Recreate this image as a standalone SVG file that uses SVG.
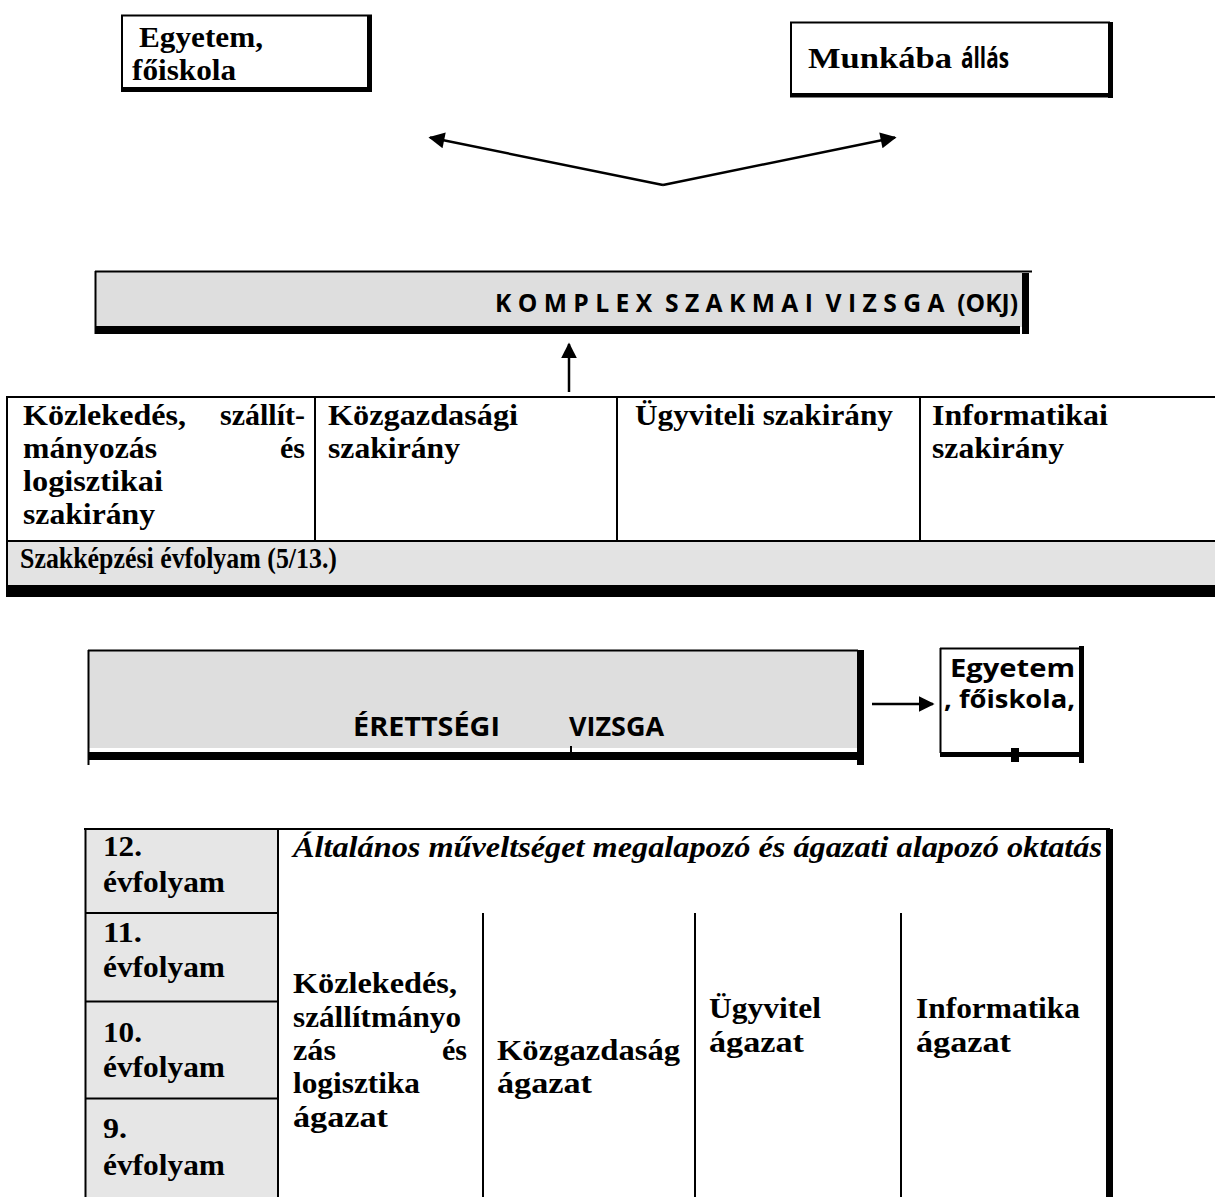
<svg xmlns="http://www.w3.org/2000/svg" width="1215" height="1197" viewBox="0 0 1215 1197">
<style>
.sb{font-family:"Liberation Serif","Times New Roman",serif;font-weight:bold;font-size:30px;fill:#000}
.si{font-family:"Liberation Serif","Times New Roman",serif;font-weight:bold;font-style:italic;font-size:30px;fill:#000}
.ss{font-family:"Open Sans",Lato,"Liberation Sans",sans-serif;font-weight:bold;fill:#000}
.thin{stroke:#000;stroke-width:2;fill:none}
.bar{fill:#000}
.conn{stroke:#000;stroke-width:2.5;fill:none}
</style>
<defs>
<marker id="ah" viewBox="0 0 10 10" refX="9" refY="5" markerUnits="userSpaceOnUse" markerWidth="24" markerHeight="16" orient="auto">
<path d="M0,0 L10,5 L0,10 z" fill="#000"/>
</marker>
<marker id="ah2" viewBox="0 0 10 10" refX="9" refY="5" markerUnits="userSpaceOnUse" markerWidth="16" markerHeight="20" orient="auto">
<path d="M0,0 L10,5 L0,10 z" fill="#000"/>
</marker>
</defs>
<rect width="1215" height="1197" fill="#fff"/>

<g id="egyetem-top">
<line class="thin" x1="121" y1="15.5" x2="372" y2="15.5" stroke-width="1.5"/>
<line class="thin" x1="122" y1="15" x2="122" y2="92"/>
<rect class="bar" x="367" y="15" width="5" height="77"/>
<rect class="bar" x="122" y="87" width="250" height="5"/>
<text class="sb" x="139" y="47" textLength="124" lengthAdjust="spacingAndGlyphs">Egyetem,</text>
<text class="sb" x="132" y="80" textLength="104" lengthAdjust="spacingAndGlyphs">főiskola</text>
</g>

<g id="munka">
<line class="thin" x1="790" y1="22.5" x2="1110" y2="22.5" stroke-width="1.5"/>
<line class="thin" x1="791" y1="22" x2="791" y2="97"/>
<rect class="bar" x="1108" y="22" width="5" height="76"/>
<rect class="bar" x="790" y="93" width="320" height="4.5"/>
<text class="sb" x="808" y="68" textLength="144" lengthAdjust="spacingAndGlyphs">Munkába</text>
<text class="ss" font-size="28" x="961" y="68" textLength="48" lengthAdjust="spacingAndGlyphs">állás</text>
</g>

<g id="komplex">
<rect x="96" y="272" width="926" height="55" fill="#dedede"/>
<line class="thin" x1="95" y1="271.5" x2="1032" y2="271.5" stroke-width="1.5"/>
<line class="thin" x1="95.5" y1="271" x2="95.5" y2="334" stroke-width="2"/>
<rect class="bar" x="95" y="326" width="925" height="8"/>
<rect class="bar" x="1022" y="273" width="7" height="61"/>
<text class="ss" font-size="25" x="495" y="312" xml:space="preserve" style="white-space:pre" textLength="523" lengthAdjust="spacingAndGlyphs">K O M P L E X  S Z A K M A I  V I Z S G A  (OKJ)</text>
</g>

<g id="szakkepzes-table">
<line class="thin" x1="6" y1="397" x2="1215" y2="397" stroke-width="2.5"/>
<line class="thin" x1="7" y1="396" x2="7" y2="597"/>
<line class="thin" x1="315" y1="397" x2="315" y2="541"/>
<line class="thin" x1="617" y1="397" x2="617" y2="541"/>
<line class="thin" x1="920" y1="397" x2="920" y2="541"/>
<rect x="8" y="542" width="1207" height="43" fill="#e3e3e3"/>
<line class="thin" x1="6" y1="541" x2="1215" y2="541" stroke-width="2.5"/>
<rect class="bar" x="6" y="585" width="1209" height="12"/>
<text class="sb" x="23" y="425" textLength="163" lengthAdjust="spacingAndGlyphs">Közlekedés,</text>
<text class="sb" x="305" y="425" text-anchor="end">szállít-</text>
<text class="sb" x="23" y="458" textLength="134" lengthAdjust="spacingAndGlyphs">mányozás</text>
<text class="sb" x="305" y="458" text-anchor="end">és</text>
<text class="sb" x="23" y="491" textLength="140" lengthAdjust="spacingAndGlyphs">logisztikai</text>
<text class="sb" x="23" y="524" textLength="132" lengthAdjust="spacingAndGlyphs">szakirány</text>
<text class="sb" x="328" y="425" textLength="190" lengthAdjust="spacingAndGlyphs">Közgazdasági</text>
<text class="sb" x="328" y="458" textLength="132" lengthAdjust="spacingAndGlyphs">szakirány</text>
<text class="sb" x="635" y="425" textLength="258" lengthAdjust="spacingAndGlyphs">Ügyviteli szakirány</text>
<text class="sb" x="932" y="425" textLength="176" lengthAdjust="spacingAndGlyphs">Informatikai</text>
<text class="sb" x="932" y="458" textLength="132" lengthAdjust="spacingAndGlyphs">szakirány</text>
<text class="sb" x="20" y="568" textLength="317" lengthAdjust="spacingAndGlyphs">Szakképzési évfolyam (5/13.)</text>
</g>

<g id="erettsegi">
<rect x="89" y="651" width="769" height="97" fill="#dedede"/>
<line class="thin" x1="88" y1="650.5" x2="858" y2="650.5" stroke-width="1.5"/>
<line class="thin" x1="88.5" y1="650" x2="88.5" y2="765" stroke-width="2"/>
<rect class="bar" x="89" y="752" width="769" height="8"/>
<line class="thin" x1="571" y1="746" x2="571" y2="752" stroke-width="1.5"/>
<rect class="bar" x="857" y="650" width="7" height="115"/>
<text class="ss" font-size="27" x="353" y="736" textLength="147" lengthAdjust="spacingAndGlyphs">ÉRETTSÉGI</text>
<text class="ss" font-size="27" x="569" y="736" textLength="95" lengthAdjust="spacingAndGlyphs">VIZSGA</text>
</g>

<g id="egyetem-right">
<line class="thin" x1="940" y1="648.5" x2="1081" y2="648.5" stroke-width="1.5"/>
<line class="thin" x1="940.5" y1="648" x2="940.5" y2="753" stroke-width="1.5"/>
<rect class="bar" x="1079" y="646" width="5" height="117"/>
<rect class="bar" x="940" y="752" width="140" height="5"/>
<rect class="bar" x="1011" y="748" width="8" height="14"/>
<text class="ss" font-size="25" x="950" y="677" textLength="125" lengthAdjust="spacingAndGlyphs">Egyetem</text>
<text class="ss" font-size="25" x="944" y="708" textLength="131" lengthAdjust="spacingAndGlyphs">, főiskola,</text>
</g>

<g id="alap-table">
<rect x="86" y="830" width="192" height="367" fill="#e6e6e6"/>
<line class="thin" x1="84" y1="829" x2="1110" y2="829" stroke-width="2.5"/>
<line class="thin" x1="85.5" y1="828" x2="85.5" y2="1197" stroke-width="2"/>
<line class="thin" x1="278" y1="829" x2="278" y2="1197" stroke-width="2"/>
<line class="thin" x1="85" y1="913" x2="278" y2="913" stroke-width="1.5"/>
<line class="thin" x1="85" y1="1001.5" x2="278" y2="1001.5" stroke-width="1.5"/>
<line class="thin" x1="85" y1="1098.5" x2="278" y2="1098.5" stroke-width="1.5"/>
<line class="thin" x1="483" y1="913" x2="483" y2="1197" stroke-width="2"/>
<line class="thin" x1="695" y1="913" x2="695" y2="1197" stroke-width="2"/>
<line class="thin" x1="901" y1="913" x2="901" y2="1197" stroke-width="2"/>
<rect class="bar" x="1106" y="829" width="7" height="368"/>
<text class="sb" x="103" y="856" textLength="39" lengthAdjust="spacingAndGlyphs">12.</text>
<text class="sb" x="103" y="892" textLength="122" lengthAdjust="spacingAndGlyphs">évfolyam</text>
<text class="sb" x="103" y="942" textLength="39" lengthAdjust="spacingAndGlyphs">11.</text>
<text class="sb" x="103" y="977" textLength="122" lengthAdjust="spacingAndGlyphs">évfolyam</text>
<text class="sb" x="103" y="1042" textLength="39" lengthAdjust="spacingAndGlyphs">10.</text>
<text class="sb" x="103" y="1077" textLength="122" lengthAdjust="spacingAndGlyphs">évfolyam</text>
<text class="sb" x="103" y="1138" textLength="24" lengthAdjust="spacingAndGlyphs">9.</text>
<text class="sb" x="103" y="1175" textLength="122" lengthAdjust="spacingAndGlyphs">évfolyam</text>
<text class="si" x="293" y="857" textLength="809" lengthAdjust="spacingAndGlyphs">Általános műveltséget megalapozó és ágazati alapozó oktatás</text>
<text class="sb" x="293" y="993" textLength="164" lengthAdjust="spacingAndGlyphs">Közlekedés,</text>
<text class="sb" x="293" y="1027" textLength="168" lengthAdjust="spacingAndGlyphs">szállítmányo</text>
<text class="sb" x="293" y="1060" textLength="43" lengthAdjust="spacingAndGlyphs">zás</text>
<text class="sb" x="467" y="1060" text-anchor="end">és</text>
<text class="sb" x="293" y="1093" textLength="127" lengthAdjust="spacingAndGlyphs">logisztika</text>
<text class="sb" x="293" y="1127" textLength="95" lengthAdjust="spacingAndGlyphs">ágazat</text>
<text class="sb" x="497" y="1060" textLength="183" lengthAdjust="spacingAndGlyphs">Közgazdaság</text>
<text class="sb" x="497" y="1093" textLength="95" lengthAdjust="spacingAndGlyphs">ágazat</text>
<text class="sb" x="709" y="1018" textLength="112" lengthAdjust="spacingAndGlyphs">Ügyvitel</text>
<text class="sb" x="709" y="1052" textLength="95" lengthAdjust="spacingAndGlyphs">ágazat</text>
<text class="sb" x="916" y="1018" textLength="164" lengthAdjust="spacingAndGlyphs">Informatika</text>
<text class="sb" x="916" y="1052" textLength="95" lengthAdjust="spacingAndGlyphs">ágazat</text>
</g>

<g id="connectors">
<line class="conn" x1="663" y1="185" x2="430" y2="137.5" marker-end="url(#ah)"/>
<line class="conn" x1="663" y1="185" x2="895" y2="137.5" marker-end="url(#ah)"/>
<line class="conn" x1="569" y1="392" x2="569" y2="344" marker-end="url(#ah2)"/>
<line class="conn" x1="872" y1="704" x2="933" y2="704" marker-end="url(#ah2)"/>
</g>
</svg>
